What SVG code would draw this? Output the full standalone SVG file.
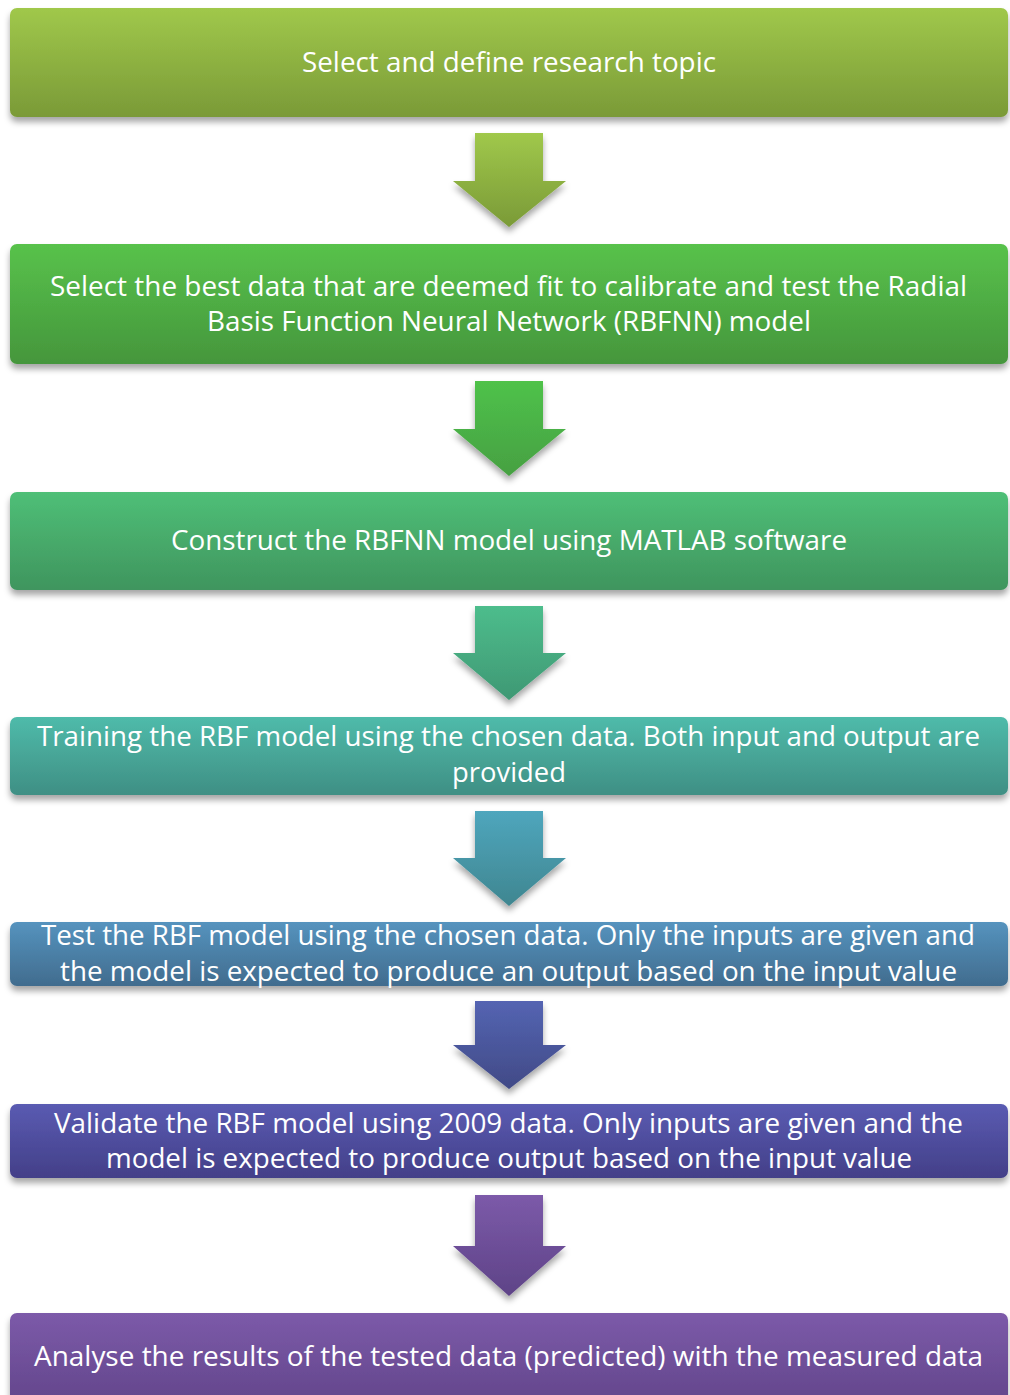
<svg xmlns="http://www.w3.org/2000/svg" width="1010" height="1395" viewBox="0 0 1010 1395">
<defs>
<filter id="sh" x="-5%" y="-20%" width="110%" height="150%">
<feDropShadow dx="0" dy="5" stdDeviation="3" flood-color="#000" flood-opacity="0.35"/>
</filter>
<linearGradient id="g1" x1="0" y1="0" x2="0" y2="1"><stop offset="0" stop-color="#a0c84b"/><stop offset="1" stop-color="#7a9a37"/></linearGradient>
<linearGradient id="g2" x1="0" y1="0" x2="0" y2="1"><stop offset="0" stop-color="#58c24b"/><stop offset="1" stop-color="#45963c"/></linearGradient>
<linearGradient id="a2" x1="0" y1="0" x2="0" y2="1"><stop offset="0" stop-color="#4fc24a"/><stop offset="1" stop-color="#46a042"/></linearGradient>
<linearGradient id="g3" x1="0" y1="0" x2="0" y2="1"><stop offset="0" stop-color="#4fbf77"/><stop offset="1" stop-color="#3f955e"/></linearGradient>
<linearGradient id="a3" x1="0" y1="0" x2="0" y2="1"><stop offset="0" stop-color="#4dbd8c"/><stop offset="1" stop-color="#3f9874"/></linearGradient>
<linearGradient id="g4" x1="0" y1="0" x2="0" y2="1"><stop offset="0" stop-color="#4fbbaa"/><stop offset="1" stop-color="#3f8f84"/></linearGradient>
<linearGradient id="a4" x1="0" y1="0" x2="0" y2="1"><stop offset="0" stop-color="#4fa6bd"/><stop offset="1" stop-color="#3f8690"/></linearGradient>
<linearGradient id="g5" x1="0" y1="0" x2="0" y2="1"><stop offset="0" stop-color="#5593be"/><stop offset="1" stop-color="#416c8e"/></linearGradient>
<linearGradient id="a5" x1="0" y1="0" x2="0" y2="1"><stop offset="0" stop-color="#5464b2"/><stop offset="1" stop-color="#414a86"/></linearGradient>
<linearGradient id="g6" x1="0" y1="0" x2="0" y2="1"><stop offset="0" stop-color="#5a5bb2"/><stop offset="1" stop-color="#433f88"/></linearGradient>
<linearGradient id="a6" x1="0" y1="0" x2="0" y2="1"><stop offset="0" stop-color="#7c5aa9"/><stop offset="1" stop-color="#5e4387"/></linearGradient>
<linearGradient id="g7" x1="0" y1="0" x2="0" y2="1"><stop offset="0" stop-color="#7c5aa9"/><stop offset="1" stop-color="#62458a"/></linearGradient>
</defs>
<style>
.box{filter:url(#sh);}
.arr{filter:url(#sh);}
text{font-family:"Open Sans","Noto Sans",sans-serif;font-size:28px;fill:#ffffff;text-anchor:middle;}
</style>
<g id="connectors">
<path class="arr" d="M475,133 H543 V181 H566 L509,227 L453,181 H475 Z" fill="url(#g1)"/>
<path class="arr" d="M475,381 H543 V429 H566 L509,476 L453,429 H475 Z" fill="url(#a2)"/>
<path class="arr" d="M475,606 H543 V653 H566 L509,700 L453,653 H475 Z" fill="url(#a3)"/>
<path class="arr" d="M475,811 H543 V858 H566 L509,906 L453,858 H475 Z" fill="url(#a4)"/>
<path class="arr" d="M475,1001 H543 V1045 H566 L509,1089 L453,1045 H475 Z" fill="url(#a5)"/>
<path class="arr" d="M475,1195 H543 V1246 H566 L509,1296 L453,1246 H475 Z" fill="url(#a6)"/>
</g>
<g id="n1">
<rect class="box" x="10" y="8" width="998" height="109" rx="7" fill="url(#g1)"/>
<text x="509" y="72" textLength="414" lengthAdjust="spacingAndGlyphs">Select and define research topic</text>
</g>
<g id="n2">
<rect class="box" x="10" y="244" width="998" height="120" rx="7" fill="url(#g2)"/>
<text x="508.5" y="296" textLength="917" lengthAdjust="spacingAndGlyphs">Select the best data that are deemed fit to calibrate and test the Radial</text>
<text x="509" y="331" textLength="604" lengthAdjust="spacingAndGlyphs">Basis Function Neural Network (RBFNN) model</text>
</g>
<g id="n3">
<rect class="box" x="10" y="492" width="998" height="98" rx="7" fill="url(#g3)"/>
<text x="509" y="550" textLength="676" lengthAdjust="spacingAndGlyphs">Construct the RBFNN model using MATLAB software</text>
</g>
<g id="n4">
<rect class="box" x="10" y="717" width="998" height="78" rx="7" fill="url(#g4)"/>
<text x="508.5" y="746" textLength="943" lengthAdjust="spacingAndGlyphs">Training the RBF model using the chosen data. Both input and output are</text>
<text x="509" y="782" textLength="114" lengthAdjust="spacingAndGlyphs">provided</text>
</g>
<g id="n5">
<rect class="box" x="10" y="922" width="998" height="64" rx="7" fill="url(#g5)"/>
<text x="508" y="945" textLength="934" lengthAdjust="spacingAndGlyphs">Test the RBF model using the chosen data. Only the inputs are given and</text>
<text x="508.5" y="981" textLength="897" lengthAdjust="spacingAndGlyphs">the model is expected to produce an output based on the input value</text>
</g>
<g id="n6">
<rect class="box" x="10" y="1104" width="998" height="74" rx="7" fill="url(#g6)"/>
<text x="508.5" y="1133" textLength="909" lengthAdjust="spacingAndGlyphs">Validate the RBF model using 2009 data. Only inputs are given and the</text>
<text x="509" y="1168" textLength="806" lengthAdjust="spacingAndGlyphs">model is expected to produce output based on the input value</text>
</g>
<g id="n7">
<rect class="box" x="10" y="1313" width="998" height="95" rx="7" fill="url(#g7)"/>
<text x="508.5" y="1366" textLength="949" lengthAdjust="spacingAndGlyphs">Analyse the results of the tested data (predicted) with the measured data</text>
</g>
</svg>
